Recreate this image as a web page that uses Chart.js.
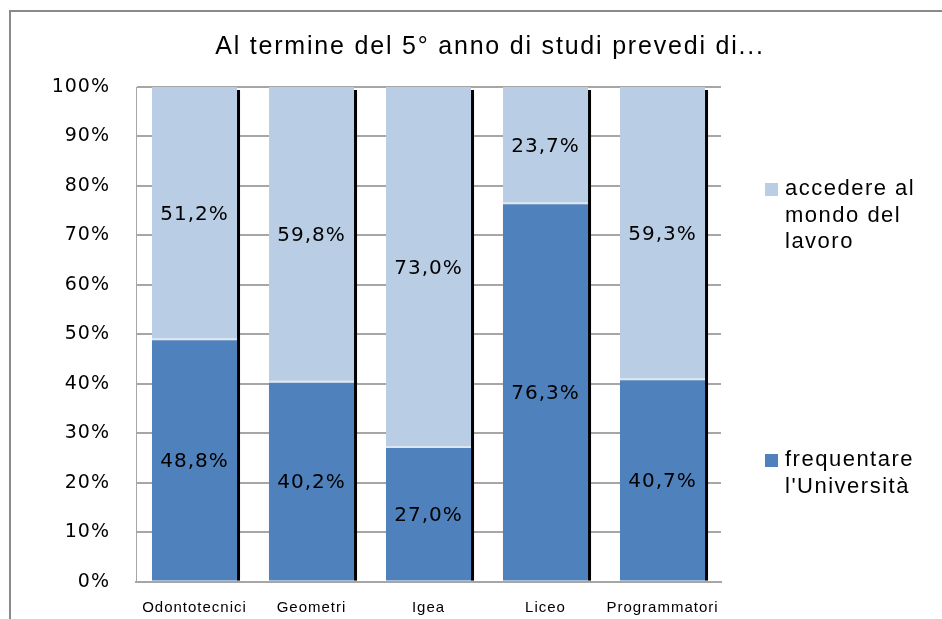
<!DOCTYPE html>
<html>
<head>
<meta charset="utf-8">
<script src="https://cdn.jsdelivr.net/npm/chart.js@4/dist/chart.umd.min.js"></script>
<style>
  html, body { margin: 0; padding: 0; background: #fff; }
  #wrap { width: 942px; height: 619px; }
</style>
</head>
<body>
<div id="wrap"><canvas id="chart"></canvas></div>
<script>
const categories = ['Odontotecnici', 'Geometri', 'Igea', 'Liceo', 'Programmatori'];
const universita = [48.8, 40.2, 27.0, 76.3, 40.7];
const lavoro = [51.2, 59.8, 73.0, 23.7, 59.3];
const seriesNames = [["frequentare", "l'Università"], ["accedere al", "mondo del", "lavoro"]];
const titleText = 'Al termine del 5° anno di studi prevedi di...';

const DARK = '#4f81bd';
const LIGHT = '#b9cde5';

// frame, title, bar shadows, value labels and legend
const decorations = {
  id: 'decorations',
  beforeUpdate(chart) {
    chart.ctx.letterSpacing = '1px';
  },
  beforeDraw(chart) {
    const ctx = chart.ctx;
    ctx.letterSpacing = '1px';
    ctx.save();
    ctx.strokeStyle = '#8a8a8a';
    ctx.lineWidth = 2;
    ctx.beginPath();
    ctx.moveTo(10, 619);
    ctx.lineTo(10, 11);
    ctx.lineTo(942, 11);
    ctx.stroke();

    ctx.fillStyle = '#000';
    ctx.font = '25px "Liberation Sans", Arial, sans-serif';
    ctx.letterSpacing = '1.8px';
    ctx.textAlign = 'center';
    ctx.textBaseline = 'middle';
    ctx.fillText(titleText, 490, 47);
    ctx.restore();
    ctx.letterSpacing = '1px';
  },
  afterDatasetsDraw(chart) {
    const ctx = chart.ctx;
    const bottom = chart.getDatasetMeta(0);
    const top = chart.getDatasetMeta(1);
    ctx.save();
    // dark shadow on the right of every column
    ctx.fillStyle = '#000';
    top.data.forEach((bar, i) => {
      const base = bottom.data[i].base;
      ctx.fillRect(bar.x + bar.width / 2, bar.y + 3, 3, base - bar.y - 3);
    });
    // value labels
    ctx.font = '20px "DejaVu Sans", Verdana, sans-serif';
    ctx.letterSpacing = '1px';
    ctx.textAlign = 'center';
    ctx.textBaseline = 'middle';
    chart.data.datasets.forEach((ds, d) => {
      chart.getDatasetMeta(d).data.forEach((bar, i) => {
        const txt = ds.data[i].toFixed(1).replace('.', ',') + '%';
        ctx.fillText(txt, bar.x, (bar.y + bar.base) / 2 + 1);
      });
    });
    ctx.restore();
  },
  afterDraw(chart) {
    const ctx = chart.ctx;
    const area = chart.chartArea;
    const x = area.right + 44;
    const blocks = [
      { ds: 1, y: area.top + 102 },
      { ds: 0, y: area.top + 373 }
    ];
    ctx.save();
    ctx.font = '22px "Liberation Sans", Arial, sans-serif';
    ctx.letterSpacing = '1.5px';
    ctx.textBaseline = 'middle';
    ctx.textAlign = 'left';
    blocks.forEach(b => {
      const ds = chart.data.datasets[b.ds];
      const lines = seriesNames[b.ds];
      ctx.fillStyle = ds.backgroundColor;
      ctx.fillRect(x, b.y - 6, 13, 13);
      ctx.fillStyle = '#000';
      lines.forEach((ln, k) => ctx.fillText(ln, x + 20, b.y + k * 26.5));
    });
    ctx.restore();
    ctx.letterSpacing = '1px';
  }
};

new Chart(document.getElementById('chart'), {
  type: 'bar',
  data: {
    labels: categories,
    datasets: [
      {
        label: seriesNames[0].join(' '),
        data: universita,
        backgroundColor: DARK,
        borderWidth: 0,
        barPercentage: 0.727,
        categoryPercentage: 1
      },
      {
        label: seriesNames[1].join(' '),
        data: lavoro,
        backgroundColor: LIGHT,
        borderColor: '#dde6f1',
        borderWidth: { bottom: 2, top: 0, left: 0, right: 0 },
        borderSkipped: false,
        barPercentage: 0.727,
        categoryPercentage: 1
      }
    ]
  },
  options: {
    responsive: true,
    maintainAspectRatio: false,
    animation: false,
    layout: { padding: { top: 87, left: 0, right: 221, bottom: 0 } },
    plugins: {
      legend: { display: false },
      title: { display: false },
      tooltip: { enabled: false }
    },
    scales: {
      x: {
        stacked: true,
        grid: { display: false },
        border: { color: '#a6a6a6', width: 2 },
        ticks: {
          color: '#000',
          padding: 9,
          maxRotation: 0,
          font: { family: '"Liberation Sans", Arial, sans-serif', size: 15 }
        },
        afterFit(scale) { scale.height = 37; }
      },
      y: {
        stacked: true,
        min: 0,
        max: 100,
        grid: { color: '#a6a6a6', lineWidth: 2, drawTicks: false },
        border: { color: '#a6a6a6', width: 1 },
        ticks: {
          stepSize: 10,
          color: '#000',
          padding: 26,
          font: { family: '"DejaVu Sans", Verdana, sans-serif', size: 19 },
          callback: v => v + '%'
        },
        afterFit(scale) { scale.width = 136; }
      }
    }
  },
  plugins: [decorations]
});
</script>
</body>
</html>
